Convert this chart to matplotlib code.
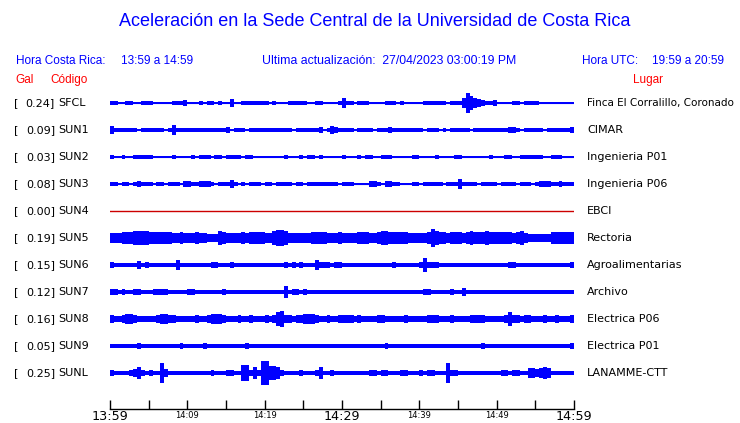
import numpy as np
import matplotlib
matplotlib.use('Agg')
import matplotlib.pyplot as plt

# datos de las estaciones
codes = ['SFCL', 'SUN1', 'SUN2', 'SUN3', 'SUN4', 'SUN5', 'SUN6', 'SUN7', 'SUN8', 'SUN9', 'SUNL']
gal = [0.24, 0.09, 0.03, 0.08, 0.00, 0.19, 0.15, 0.12, 0.16, 0.05, 0.25]
places = ['Finca El Corralillo, Coronado', 'CIMAR', 'Ingenieria P01', 'Ingenieria P06', 'EBCI',
          'Rectoria', 'Agroalimentarias', 'Archivo', 'Electrica P06', 'Electrica P01', 'LANAMME-CTT']

# minutos desde 13:59, ticks cada 5 min
tick_min = [0, 5, 10, 15, 20, 25, 30, 35, 40, 45, 50, 55, 60]
tick_lab = ['13:59', '', '14:09', '', '14:19', '', '14:29', '', '14:39', '', '14:49', '', '14:59']

# envolvente (media altura en px) cada 30 s
sfcl = [1.5,1.5,.5,.5,1.5,1.5,.5,1,1.5,1.5, 1.5,1,.5,1,1,1,1.5,1.5,1.5,3,
        .5,.5,1,1.5,1,1.5,1.5,1,1.5,1, .5,4,1,.5,1.5,1.5,1.5,1.5,1.5,1.5,
        1.5,1,1.5,1,.5,1,1.5,1.5,1.5,1.5, 1.5,1,.5,1.5,1.5,1,.5,1,.5,1.5,
        5,1.5,1.5,.5,1.5,1.5,1.5,.5,1,.5, .5,1.5,1.5,1.5,.5,1.5,.5,.5,1,.5,
        .5,1.5,1.5,1.5,1.5,1.5,1.5,1,1.5,1.5, 1.5,5,10,7,5,4,3,1.5,1.5,3,
        .5,.5,.5,.5,1.5,1.5,.5,1.5,1.5,1.5, 1.5,.5,1,.5,1,.5,.5,.5,1,.5]
sun1 = [4,1.3,1.3,1.3,1.3,1.3,1.3,.5,1.3,1.3, 1.3,1.3,1.3,1.3,.5,1.3,4.3,1.3,1.3,1.3,
        1.3,1.3,1.3,1.5,1.3,1.3,1.3,1.3,1.3,1.3, 3,.5,1.3,1.3,1.3,.5,1.3,1.3,1.3,1.3,
        1.3,1.3,1.5,1.3,1.3,1.3,1.3,.5,1.3,1.3, 1.3,1.3,1.3,1.3,3,.5,1.3,3.5,3,1.5,
        1.3,1.3,1.3,.5,1.3,1.3,1.3,1.3,.5,1.3, 1.3,1.3,2.5,1.3,1.3,1.3,1.3,2,1.3,1.3,
        1.3,.5,1.3,1.3,1.3,.5,1.3,.5,1.3,1.3, 1.3,2,1.3,.5,1.3,1.3,1.3,1.3,1.3,1.3,
        1.3,1.3,1.3,2.3,2.3,1.3,.5,1.3,1.3,1.3, 1.3,1.3,.5,1.3,1.3,1.3,1.3,1.3,1.3,2.5]
sun2 = [1.3,.5,.5,1.3,.5,.5,1.3,1.3,1.3,1.3, 1.3,1,.5,.5,1,.5,1.3,.5,.5,.5,
        .5,1.3,.5,1.3,1.3,1.3,.5,1.3,1.3,.5, 1.3,1.3,1.3,1.3,1,1.3,1.3,1,.5,.5,
        .5,.5,.5,.5,.5,1.3,.5,.5,.5,1.3, .5,1.3,1.3,.5,1.3,.5,.5,1,.5,.5,
        1.3,.5,1,.5,1.3,.5,1.3,1.3,1,.5, 1.3,1.3,1.3,.5,.5,.5,1,1,1.3,1.3,
        .5,.5,.5,.5,1.3,.5,.5,.5,.5,1.3, 1.3,.5,1,.5,.5,1,.5,1,1.3,1,
        .5,.5,1.3,1.3,.5,.5,1.3,1.3,1.3,1.3, 1.3,1.3,1,.5,1.3,1.3,1.3,.5,1,.5]
sun3 = [1.8,1.8,1,1.8,1.8,1,1.8,3,1.8,1.8, 1.8,1,1.8,1.8,1,1.8,1.8,1.8,1,2.5,
        2.5,1.8,1.8,3,3,3,1.8,1,1.8,1.8, 2,3.7,1.8,1,1.8,1,1.8,1.8,1.8,1,
        1.8,1.8,1,1.8,1.8,1.8,1.8,1,1.8,1.8, 1,1.8,1.8,1.8,1.8,1.8,1.8,1.8,1.8,1,
        1.8,1.8,1.8,1,1,1,1,2.3,2.3,2, 1,2.3,2.3,1.8,1.8,1,1,1,1.8,1.8,
        1,1.8,1.8,1.8,1.8,1.8,1,1.8,1.8,1.8, 4.5,1.8,1.8,1.8,1.8,1,1.8,1.8,1.8,1.8,
        1,1.8,1.8,1.8,1.8,1,1.8,1.8,1.8,1, 1.8,2.3,2.3,2.3,1.8,1.8,2.8,1.8,1.8,1.8]
sun4 = [0] * 120
sun5 = [5,5,5,5.5,5.5,5.5,6.5,6.5,6.5,6.5, 6,5.5,5.5,5.5,5.5,5.5,5,5,5.5,5,
        5,5,5.5,5,5,3.5,3.5,4,6.5,5.5, 5,5,5,5,5.5,5,6,6,6,5.5,
        5,5,7,7.5,8,7,5,4.5,4.5,4.5, 4.5,5,6,6,6,5.5,5,5,5,5.5,
        5,5,5,5,5.5,6,6,5,5,5.5, 6.5,6.5,6,5.5,5.5,5.5,5.5,5,5,5,
        5,5,5.5,9,7,5.5,5.5,5,5.5,5.5, 5.5,5,5.5,6.5,5.5,5.5,5.5,6.5,6,6,
        6,6,6,6,5,5.5,7,5,3.5,3.5, 3.5,3.5,4,4,5.5,5.5,5.5,5.5,6,6]
sun6 = [2.5,1.5,1.5,1.5,1.5,1.5,1.5,3.5,1.5,2.5, 1.5,1.5,1.5,1.5,1.5,1.5,1.5,4.5,1.5,1.5,
        1.5,1.5,1.5,1.5,1.5,1.5,2.5,2.5,1.5,1.5, 1.5,2.5,1.5,1.5,2,1.5,1.5,1.5,1.5,2,
        1.5,1.5,1.5,2,1.5,2.5,2,2.5,2,2.5, 1.5,1.5,2,4.5,2.5,2.3,2.3,1.5,2.3,2.3,
        1.5,1.5,1.5,1.5,1.5,1.5,1.5,1.5,1.5,1.5, 1.5,1.5,1.5,2.3,1.5,1.5,1.5,2,1.5,1.5,
        2.5,7,2.5,2.5,2.5,1.5,1.5,2,1.5,2, 2,1.5,1.5,1.5,1.5,1.5,1.5,1.5,2,2,
        1.5,1.5,1.5,2.8,2.8,1.5,1.5,1.5,1.5,1.5, 1.5,1.5,1.5,2,1.5,1.5,1.5,1.5,1.5,3]
sun7 = [2.3,2.3,2,2.3,1.2,1.2,3,2.3,1.2,1.2, 1.2,3,3,2.5,2.5,1.2,1.2,1.2,1.2,1.2,
        2.3,2.3,1.2,2,1.2,1.2,1.2,1.2,1.5,2.5, 1.2,1.2,2,1.2,1.2,2,2,1.2,1.2,2,
        1.2,1.2,1.2,1.2,1.5,6,1.5,2.3,2.3,1.2, 3,1.2,1.2,2,1.2,1.2,2,2,1.5,2,
        2,1.2,2,1.2,2,1.2,1.2,2,1.2,1.2, 2,1.2,1.2,2,1.2,2,1.2,1.2,2,1.2,
        1.2,2.5,2.5,1.2,1.2,1.5,1.2,1.2,2.3,1.5, 1.5,4,2,2,1.2,2,1.2,1.2,1.2,1.2,
        2,2,1.2,1.2,1.2,1.5,1.2,1.2,2,1.2, 1.2,1.5,1.2,1.2,1.2,1.5,1.2,1.5,1.2,2]
sun8 = [3.5,3,3,3.5,4.5,4.5,3.5,3,3,3, 3,3,3.5,5,5,3.5,3.5,3,3,3,
        3,3,3.5,3,3,3.5,5,5,5,3.5, 3,3,3,3.5,3,3,3.5,3,3,3,
        3.5,3,3.5,6.5,8,4,3.5,3,3.5,3.5, 4.5,4.5,4.5,3.5,3,3,3.5,3,3,3.5,
        3.5,3.5,3.5,3,3.5,3,3,3,3,3.5, 3.5,3,3,3,3,3,3.5,3,3,3,
        3,3,3.5,4,4,3,3,3,3.5,3, 3,3,3,3.5,3.5,3.5,3.5,3,3,3,
        3,3,3.5,6.5,4,3.5,3,3.5,3.5,3, 3,3,3.5,3,3,3.5,3,3,3,3.5]
sun9 = [1.3,1.3,1.3,1.3,1.3,1.3,1.3,2.3,1.3,1.3, 1.3,1.3,1.3,1.3,1.3,1.3,1.3,1.3,2.3,1.3,
        1.3,1.3,1.3,1.3,2.3,1.3,1.3,1.3,1.3,1.3, 1.3,1.3,1.3,1.3,1.3,2.3,1.3,1.3,1.3,1.3,
        1.3,1.3,1.3,1.3,1.3,1.3,1.3,1.3,1.3,1.3, 1.3,1.3,1.3,1.3,1.3,1.3,1.8,1.3,1.3,1.3,
        1.3,1.3,1.3,1.3,1.3,1.3,1.3,1.3,1.3,1.3, 1.3,2.3,1.3,1.3,1.3,1.3,1.3,1.3,1.3,1.3,
        1.3,1.3,1.3,1.3,1.3,1.3,1.3,1.3,1.3,1.3, 1.3,1.3,1.3,1.3,1.3,1.3,2.3,1.3,1.3,1.3,
        1.3,1.3,1.3,1.3,1.3,1.3,1.3,2,1.3,1.3, 1.8,1.3,1.3,1.3,1.3,1.3,1.3,1.3,1.3,2.3]
sunl = [2.3,1.5,2,1.5,2,2.3,4,6,2.3,2, 2.3,2,2,9.5,4,2,1.5,2,2,1.5,
        1.5,1.5,2,1.5,1.5,2,3,2,1.5,2, 3,2.3,2,2,7.5,7.5,2.3,6,2.3,12,
        12,7,7,6,2.3,2,2,1.5,2,3, 2,1.5,2,2.3,6,2,1.5,3,2,1.5,
        1.5,1.5,2,1.5,1.5,1.5,1.5,2.3,2.3,2, 3,2.3,1.5,1.5,1.5,2.5,2.5,1.5,1.5,1.5,
        2.3,2,3,2.3,1.5,1.5,2,10,2.5,2.5, 1.5,1.5,1.5,2,2,2,2,2,1.5,1.5,
        1.5,2.5,2.5,2,2.5,2.5,2,1.5,4.5,4.5, 4,4.5,6,4.5,2,2,2,2,1.5,2]

traces = [sfcl, sun1, sun2, sun3, sun4, sun5, sun6, sun7, sun8, sun9, sunl]

W, H = 740, 423
blue = '#0000ff'
red = '#ff0000'

fig = plt.figure(figsize=(7.4, 4.23), dpi=100)

def fx(px):
    return px / W

def fy(py):
    return 1 - py / H

# ejes de las trazas: x 110..574 px, y 90..409 px; separacion 27 px
top, bot = 90, 409
y0, dy = 103, 27
pen = 0.35  # media anchura del trazo, px
ax = fig.add_axes([fx(110), fy(bot), fx(574 - 110), (bot - top) / H])
ax.set_xlim(0, 60)
ax.set_ylim((bot - y0) / dy, (top - y0) / dy)

t = np.arange(121) * 0.5
for k, amp in enumerate(traces):
    if gal[k] == 0:
        ax.plot([0, 60], [k, k], color='#cc0000', lw=1)
        continue
    a = (np.array(amp + [amp[-1]]) + pen) / dy
    ax.fill_between(t, k - a, k + a, step='post', color=blue, lw=0)
    ax.plot([0, 60], [k, k], color=blue, lw=0.8)

for s in ['top', 'right', 'left']:
    ax.spines[s].set_visible(False)
ax.spines['bottom'].set_linewidth(1)
ax.set_yticks([])
ax.set_xticks(tick_min)
ax.set_xticklabels(tick_lab)
ax.tick_params(axis='x', direction='in', length=6.5, width=1, pad=1)
for i, lab in enumerate(ax.get_xticklabels()):
    if tick_min[i] % 30 == 0:
        lab.set_fontsize(9.2)
    else:
        lab.set_fontsize(6)
        lab.set_y(-0.003)

# etiquetas de cada traza
renderer = fig.canvas.get_renderer()
for k in range(len(codes)):
    yy = fy(y0 + dy * k)
    fig.text(fx(14), yy, '[', fontsize=8, va='center')
    fig.text(fx(55), yy, '%.2f]' % gal[k], fontsize=8, va='center', ha='right')
    fig.text(fx(58), yy, codes[k], fontsize=8, va='center')
    tx = fig.text(fx(587), yy, places[k], fontsize=8, va='center')
    w = tx.get_window_extent(renderer).width
    if w > 146:
        tx.set_fontsize(8 * 146 / w)

# encabezado
hf = 'Liberation Sans'
fig.text(fx(375), fy(22), 'Aceleración en la Sede Central de la Universidad de Costa Rica',
         fontsize=13, family=hf, color=blue, ha='center', va='center')
fig.text(fx(16), fy(61), 'Hora Costa Rica:', fontsize=8.5, family=hf, color=blue, va='center')
fig.text(fx(121), fy(61), '13:59 a 14:59', fontsize=8.5, family=hf, color=blue, va='center')
fig.text(fx(262), fy(61), 'Ultima actualización:  27/04/2023 03:00:19 PM', fontsize=8.8,
         family=hf, color=blue, va='center')
fig.text(fx(582), fy(61), 'Hora UTC:', fontsize=8.5, family=hf, color=blue, va='center')
fig.text(fx(652), fy(61), '19:59 a 20:59', fontsize=8.5, family=hf, color=blue, va='center')
fig.text(fx(15), fy(80), 'Gal', fontsize=8.5, family=hf, color=red, va='center')
fig.text(fx(50), fy(80), 'Código', fontsize=8.5, family=hf, color=red, va='center')
fig.text(fx(633), fy(80), 'Lugar', fontsize=8.5, family=hf, color=red, va='center')

fig.savefig('out.png', dpi=100)
